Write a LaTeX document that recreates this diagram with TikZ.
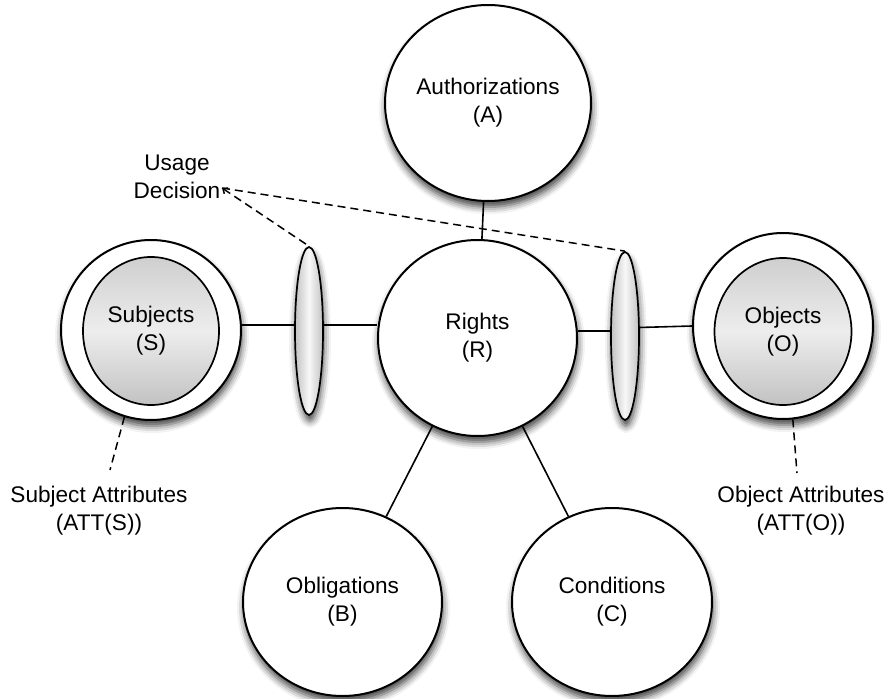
\documentclass[tikz,border=0pt]{standalone}
\usepackage{fontspec}
\setmainfont{Liberation Sans}
\usetikzlibrary{shapes.geometric,shadows.blur,arrows.meta}
\begin{document}
\begin{tikzpicture}[x=1pt,y=-1pt,
  lbl/.style={align=center,font=\fontsize{22.6}{28}\selectfont,inner sep=0pt},
  shd/.style={blur shadow={shadow xshift=1pt,shadow yshift=-6pt,shadow blur radius=7pt,shadow opacity=75}},
  bub/.style={ellipse,draw=black,line width=2pt,fill=white,inner sep=0pt,shd},
  inn/.style={ellipse,draw=black,line width=1.7pt,inner sep=0pt,
    top color=black!19,bottom color=black!24,middle color=black!7},
  lens/.style={ellipse,draw=black,line width=1.7pt,inner sep=0pt,shd,
    left color=black!24,right color=black!24,middle color=black!3},
  conn/.style={line width=1.6pt},
  dsh/.style={line width=1.5pt,dash pattern=on 8pt off 5pt}
]
\useasboundingbox (0,0) rectangle (887,699);

% main bubbles
\node[bub,minimum width=206pt,minimum height=196pt,
  label={[lbl]center:Authorizations\\(A)}] (A) at (488,103) {};
\node[bub,minimum width=199pt,minimum height=196pt,
  label={[lbl]center:Rights\\(R)}] (R) at (477.5,338) {};
\node[bub,minimum width=199pt,minimum height=188pt,
  label={[lbl]center:Obligations\\(B)}] (B) at (342.5,602) {};
\node[bub,minimum width=200pt,minimum height=188pt,
  label={[lbl]center:Conditions\\(C)}] (C) at (612,602) {};

% subjects / objects
\node[bub,minimum width=180pt,minimum height=180pt] (S) at (151,330) {};
\node[inn,minimum width=136pt,minimum height=148pt,
  label={[lbl]center:Subjects\\(S)}] (Si) at (151,331) {};
\node[bub,minimum width=180pt,minimum height=186pt] (O) at (783,326) {};
\node[inn,minimum width=137pt,minimum height=147pt,
  label={[lbl]center:Objects\\(O)}] (Oi) at (783,331.5) {};

% usage decision lenses
\node[lens,minimum width=28pt,minimum height=168pt] (E1) at (309,331) {};
\node[lens,minimum width=28pt,minimum height=168pt] (E2) at (625,336) {};

% free labels
\node[lbl] (UD) at (177,176.5) {Usage\\Decision};
\node[lbl] (SA) at (99,511) {Subject Attributes\\(ATT(S))};
\node[lbl] (OA) at (801,511) {Object Attributes\\(ATT(O))};
\coordinate (ud) at (222,188);
\coordinate (sae) at (110,470);
\coordinate (oae) at (797,473);

% connectors
\draw[conn] (A) -- (R);
\draw[conn] (S.3) -- (S.3 -| E1.west);
\draw[conn] (E1.east |- S.3) -- (R.west |- S.3);
\draw[conn] (R.4) -- (E2.west |- R.4);
\draw[conn] (E2.30) -- (O.west);
\draw[conn] (R) -- (B);
\draw[conn] (R) -- (C);

% dashed
\draw[dsh,{Straight Barb[length=4pt,width=7pt]}-] (ud) -- (E1.north);
\draw[dsh] (ud) -- (E2.north);
\draw[dsh] (S.-107) -- (sae);
\draw[dsh] (O.-84) -- (oae);
\end{tikzpicture}
\end{document}
